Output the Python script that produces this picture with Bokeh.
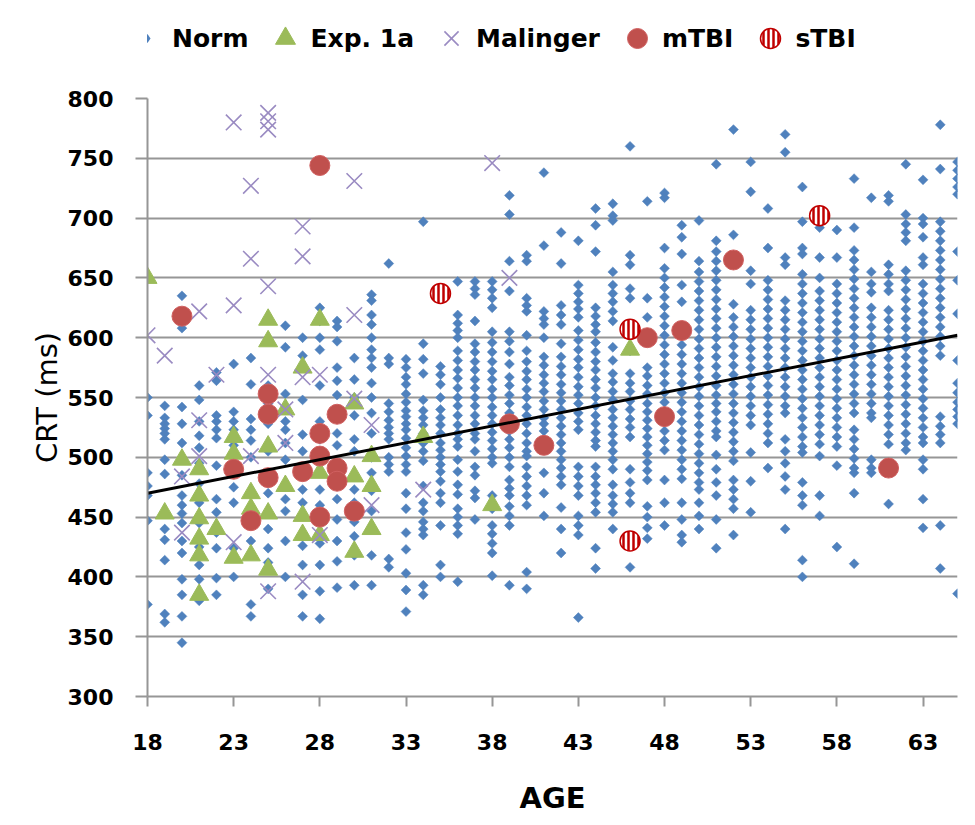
import math
from bokeh.plotting import figure
from bokeh.layouts import column
from bokeh.models import Legend, LegendItem, FixedTicker, Range1d
from bokeh.embed import file_html
from bokeh.resources import INLINE

# ---------------- data ----------------
x_ticks = [18, 23, 28, 33, 38, 43, 48, 53, 58, 63]
y_ticks = [300, 350, 400, 450, 500, 550, 600, 650, 700, 750, 800]

norm_18 = [550, 535, 487, 476, 468, 447, 377]
norm_19 = [543, 533, 528, 524, 520, 515, 498, 486, 440, 431, 414, 369, 362]
norm_20 = [635, 608, 542, 528, 512, 485, 468, 460, 453, 445, 430, 420, 398, 385, 367, 345]
norm_21 = [560, 548, 530, 518, 508, 495, 478, 462, 445, 425, 410, 398, 380]
norm_22 = [571, 564, 535, 530, 523, 516, 493, 465, 454, 437, 424, 399, 385]
norm_23 = [578, 538, 530, 523, 510, 490, 475, 462, 424, 400]
norm_24 = [583, 561, 532, 523, 514, 500, 470, 445, 430, 377, 367]
norm_25 = [560, 545, 528, 505, 470, 440, 424, 412, 390]
norm_26 = [610, 592, 553, 530, 523, 512, 498, 465, 455, 430, 400]
norm_27 = [600, 585, 548, 519, 505, 490, 473, 462, 426, 410, 385, 367]
norm_28 = [625, 614, 600, 590, 560, 530, 515, 473, 460, 428, 410, 388, 365]
norm_29 = [614, 609, 597, 575, 564, 552, 520, 510, 476, 465, 448, 430, 413, 391]
norm_30 = [583, 565, 550, 535, 515, 505, 473, 462, 446, 434, 418, 393]
norm_31 = [636, 631, 619, 611, 600, 590, 583, 575, 562, 550, 537, 520, 500, 487, 472, 455, 418, 393]
norm_32 = [662, 583, 578, 545, 538, 531, 525, 520, 515, 500, 494, 488, 415, 408]
norm_33 = [582, 575, 567, 561, 553, 546, 539, 534, 528, 523, 516, 508, 501, 494, 488, 470, 457, 437, 423, 403, 389, 371]
norm_34 = [697, 595, 582, 570, 548, 539, 533, 527, 520, 512, 505, 497, 476, 462, 455, 446, 440, 435, 393, 385]
norm_35 = [576, 569, 561, 550, 540, 533, 527, 520, 512, 506, 500, 494, 488, 480, 470, 462, 443, 410, 400]
norm_36 = [647, 619, 612, 606, 600, 589, 581, 573, 566, 558, 550, 543, 535, 527, 520, 515, 509, 498, 488, 477, 469, 457, 450, 443, 436, 396]
norm_37 = [647, 641, 636, 614, 595, 588, 580, 573, 565, 558, 550, 543, 535, 528, 520, 515, 505, 492, 485, 472, 466, 448]
norm_38 = [647, 640, 633, 625, 605, 596, 588, 580, 572, 565, 557, 550, 542, 535, 528, 521, 514, 507, 500, 495, 468, 457, 443, 436, 428, 420, 401]
norm_39 = [719, 703, 664, 639, 605, 597, 588, 578, 567, 560, 552, 545, 537, 530, 522, 515, 508, 500, 492, 481, 474, 468, 459, 451, 443, 393]
norm_40 = [669, 664, 633, 627, 622, 602, 589, 580, 572, 565, 557, 550, 542, 535, 528, 520, 512, 505, 501, 492, 484, 476, 468, 460, 404, 390]
norm_41 = [738, 677, 622, 616, 611, 600, 584, 577, 569, 562, 555, 547, 540, 533, 528, 522, 515, 487, 470, 451]
norm_42 = [688, 662, 627, 619, 611, 595, 584, 576, 569, 561, 554, 547, 540, 533, 526, 519, 512, 505, 498, 491, 484, 477, 458, 440, 420]
norm_43 = [681, 644, 637, 630, 624, 617, 606, 598, 590, 582, 575, 567, 559, 552, 545, 537, 530, 523, 492, 484, 476, 468, 451, 443, 435, 366]
norm_44 = [708, 694, 672, 625, 618, 611, 605, 596, 588, 580, 573, 565, 558, 550, 543, 535, 528, 521, 514, 509, 492, 484, 477, 470, 462, 454, 424, 407]
norm_45 = [712, 702, 698, 655, 644, 637, 630, 622, 614, 592, 581, 570, 563, 555, 548, 540, 533, 526, 519, 512, 505, 498, 490, 477, 468, 461, 454, 440]
norm_46 = [760, 669, 661, 641, 633, 589, 570, 562, 555, 547, 540, 532, 525, 517, 490, 479, 470, 462, 408]
norm_47 = [714, 633, 617, 598, 575, 568, 560, 553, 545, 538, 531, 524, 517, 510, 503, 496, 489, 481, 459, 450, 441, 432]
norm_48 = [721, 717, 675, 658, 650, 642, 634, 626, 618, 610, 602, 594, 586, 578, 570, 562, 554, 546, 538, 530, 522, 514, 506, 481, 462, 443]
norm_49 = [694, 684, 670, 644, 630, 602, 594, 586, 578, 570, 562, 554, 546, 538, 530, 522, 514, 506, 498, 490, 482, 462, 448, 435, 429]
norm_50 = [698, 664, 655, 647, 639, 631, 623, 615, 607, 599, 591, 583, 575, 567, 559, 551, 543, 535, 527, 519, 511, 503, 495, 487, 479, 473, 462, 451, 440]
norm_51 = [745, 681, 672, 664, 656, 648, 640, 632, 624, 616, 608, 600, 592, 584, 576, 568, 560, 552, 545, 538, 530, 522, 517, 502, 490, 479, 468, 448, 424]
norm_52 = [774, 686, 628, 617, 609, 601, 593, 585, 577, 569, 561, 553, 545, 537, 529, 521, 513, 505, 497, 481, 473, 465, 457, 435]
norm_53 = [747, 722, 656, 645, 623, 615, 607, 599, 591, 583, 575, 567, 559, 551, 543, 535, 527, 504, 480, 454]
norm_54 = [708, 675, 648, 640, 632, 624, 616, 608, 600, 592, 584, 576, 568, 560, 552, 544, 536, 528, 520, 512, 491]
norm_55 = [770, 755, 667, 661, 631, 623, 615, 607, 599, 591, 583, 575, 567, 559, 551, 543, 537, 515, 505, 495, 484, 473, 440]
norm_56 = [726, 697, 675, 670, 653, 645, 637, 629, 621, 613, 605, 597, 589, 581, 573, 565, 557, 549, 541, 533, 525, 517, 509, 504, 479, 468, 460, 414, 400]
norm_57 = [692, 667, 650, 639, 631, 623, 615, 607, 599, 591, 583, 575, 567, 559, 551, 543, 535, 527, 519, 511, 501, 468, 451]
norm_58 = [690, 667, 645, 637, 629, 621, 613, 605, 597, 589, 581, 573, 565, 557, 549, 541, 533, 525, 517, 509, 493, 425]
norm_59 = [733, 692, 673, 665, 657, 649, 641, 633, 625, 617, 609, 601, 593, 585, 577, 569, 561, 553, 545, 537, 523, 515, 507, 499, 491, 487, 470, 411]
norm_60 = [717, 655, 645, 638, 625, 617, 609, 601, 593, 585, 577, 569, 561, 553, 545, 537, 533, 498, 491, 487]
norm_61 = [719, 714, 661, 653, 645, 639, 623, 615, 607, 599, 591, 583, 575, 567, 559, 551, 543, 535, 527, 519, 511, 461]
norm_62 = [745, 703, 695, 688, 681, 656, 648, 640, 632, 624, 616, 608, 600, 592, 584, 576, 568, 560, 552, 544, 536, 528, 520, 512, 506]
norm_63 = [732, 700, 695, 684, 667, 661, 645, 637, 629, 621, 613, 605, 597, 589, 581, 573, 565, 557, 549, 541, 533, 525, 517, 512, 498, 490, 465, 441]
norm_64 = [778, 741, 697, 689, 681, 673, 665, 657, 649, 641, 633, 625, 617, 609, 601, 593, 585, 534, 526, 519, 512, 443, 407]
norm_65 = [747, 740, 733, 726, 720, 672, 648, 620, 581, 562, 554, 546, 540, 534, 528, 386]

exp_age = [18, 19, 20, 21, 21, 21, 21, 21, 21, 22, 23, 23, 23, 24, 24, 24,
           25, 25, 25, 25, 25, 26, 26, 27, 27, 27, 28, 28, 28, 30, 30, 30,
           31, 31, 31, 34, 38, 46]
exp_crt = [650, 453, 498, 490, 468, 449, 432, 418, 385, 440, 517, 503, 416, 470, 457, 418,
           615, 597, 509, 453, 406, 540, 476, 575, 451, 435, 615, 487, 435, 545, 484, 421,
           501, 476, 440, 517, 460, 590]

mal_age = [18, 19, 20, 20, 21, 21, 21, 22, 23, 23, 23, 24, 24, 24,
           25, 25, 25, 25, 25, 25, 26, 26, 27, 27, 27, 27, 28, 28,
           30, 30, 30, 31, 31, 34, 38, 39]
mal_crt = [602, 585, 484, 437, 622, 531, 501, 569, 780, 627, 429, 727, 666, 501,
           788, 781, 774, 643, 569, 388, 540, 512, 693, 668, 567, 396, 569, 435,
           731, 619, 549, 527, 460, 473, 746, 650]

mtbi_age = [20, 23, 24, 25, 25, 25, 27, 28, 28, 28, 28, 29, 29, 29, 30, 39, 41, 47, 48, 49, 52, 61]
mtbi_crt = [618, 490, 447, 553, 536, 483, 488, 744, 520, 501, 450, 536, 491, 480, 455, 528, 510, 600, 534, 606, 665, 491]

stbi_age = [35, 46, 46, 57]
stbi_crt = [637, 607, 430, 702]

trend_age = [18, 65]
trend_crt = [470, 602]

legend_labels = ["Norm", "Exp. 1a", "Malinger", "mTBI", "sTBI"]

norm_columns = [
    (18, norm_18), (19, norm_19), (20, norm_20), (21, norm_21), (22, norm_22),
    (23, norm_23), (24, norm_24), (25, norm_25), (26, norm_26), (27, norm_27),
    (28, norm_28), (29, norm_29), (30, norm_30), (31, norm_31), (32, norm_32),
    (33, norm_33), (34, norm_34), (35, norm_35), (36, norm_36), (37, norm_37),
    (38, norm_38), (39, norm_39), (40, norm_40), (41, norm_41), (42, norm_42),
    (43, norm_43), (44, norm_44), (45, norm_45), (46, norm_46), (47, norm_47),
    (48, norm_48), (49, norm_49), (50, norm_50), (51, norm_51), (52, norm_52),
    (53, norm_53), (54, norm_54), (55, norm_55), (56, norm_56), (57, norm_57),
    (58, norm_58), (59, norm_59), (60, norm_60), (61, norm_61), (62, norm_62),
    (63, norm_63), (64, norm_64), (65, norm_65),
]
norm_age, norm_crt = [], []
for age, vals in norm_columns:
    norm_age += [age] * len(vals)
    norm_crt += vals

# ---------------- styling ----------------
FONT = "DejaVu Sans"
BLUE = "#4F81BD"
GREEN = "#9BBB59"
PURPLE = "#9A8BC2"
RED = "#C0504D"
DARKRED = "#C00000"
GRID = "#969696"

W = 967
LEG_H = 88
MAIN_H = 729
BORDER_L = 147
BORDER_R = 10

EXP_STYLE = dict(marker="triangle", fill_color=GREEN, line_color=GREEN)
MAL_STYLE = dict(marker="x", line_color=PURPLE, line_width=1.6)
MTBI_STYLE = dict(marker="circle", fill_color=RED, line_color="#D06060", line_width=1)
STBI_STYLE = dict(marker="circle", fill_color="white", line_color=DARKRED, line_width=1.5,
                  hatch_pattern="vertical_line", hatch_color=DARKRED,
                  hatch_scale=5, hatch_weight=2.5)

# ---------------- main chart ----------------
p = figure(width=W, height=MAIN_H, output_backend="svg", toolbar_location=None,
           title=None, x_range=Range1d(18, 65), y_range=Range1d(300, 800),
           min_border_left=BORDER_L, min_border_right=BORDER_R,
           min_border_top=10, min_border_bottom=114)
p.outline_line_color = None
p.background_fill_color = "white"
p.border_fill_color = "white"
p.xgrid.visible = False
p.ygrid.grid_line_color = GRID
p.ygrid.grid_line_width = 2

p.xaxis.ticker = FixedTicker(ticks=x_ticks)
p.yaxis.ticker = FixedTicker(ticks=y_ticks)
for ax in (p.xaxis[0], p.yaxis[0]):
    ax.axis_line_color = GRID
    ax.axis_line_width = 2
    ax.major_tick_line_color = GRID
    ax.major_tick_line_width = 2
    ax.minor_tick_line_color = None
    ax.major_tick_in = 0
    ax.major_label_text_font = FONT
    ax.major_label_text_font_style = "bold"
    ax.major_label_text_font_size = "22px"
    ax.major_label_text_color = "black"
    ax.axis_label_text_font = FONT
    ax.axis_label_text_color = "black"
p.xaxis.major_tick_out = 10
p.yaxis.major_tick_out = 12
p.xaxis.major_label_standoff = 27
p.yaxis.major_label_standoff = 22
p.xaxis.axis_label = "AGE"
p.xaxis.axis_label_text_font_size = "29px"
p.xaxis.axis_label_text_font_style = "bold"
p.xaxis.axis_label_standoff = 28
p.yaxis.axis_label = "CRT (ms)"
p.yaxis.axis_label_text_font_size = "29px"
p.yaxis.axis_label_text_font_style = "normal"
p.yaxis.axis_label_standoff = 1

p.scatter(norm_age, norm_crt, marker="square", size=7, angle=math.pi / 4,
          fill_color=BLUE, line_color=BLUE, line_width=0.5)
p.scatter(exp_age, exp_crt, size=19, **EXP_STYLE)
p.scatter(mal_age, mal_crt, size=22, **MAL_STYLE)
p.scatter(mtbi_age, mtbi_crt, size=20, **MTBI_STYLE)
p.scatter(stbi_age, stbi_crt, size=20, **STBI_STYLE)
p.line(trend_age, trend_crt, line_color="black", line_width=3)

# ---------------- legend strip (same frame borders as the chart) ----------------
lg = figure(width=W, height=LEG_H, output_backend="svg", toolbar_location=None,
            title=None, x_range=Range1d(0, 1), y_range=Range1d(0, 1),
            x_axis_location=None, y_axis_location=None,
            min_border_left=BORDER_L, min_border_right=BORDER_R,
            min_border_top=0, min_border_bottom=0)
lg.outline_line_color = None
lg.xgrid.visible = False
lg.ygrid.visible = False
lg.background_fill_color = "white"
lg.border_fill_color = "white"

# legend key renderers: one point each, outside the strip's visible range
key_x = [-5]
key_y = [-5]
l_norm = lg.scatter(key_x, key_y, marker="diamond", fill_color=BLUE,
                    line_color="white", line_width=6)
l_exp = lg.scatter(key_x, key_y, **EXP_STYLE)
l_mal = lg.scatter(key_x, key_y, **MAL_STYLE)
l_mtbi = lg.scatter(key_x, key_y, **MTBI_STYLE)
l_stbi = lg.scatter(key_x, key_y, **STBI_STYLE)

legend = Legend(
    items=[LegendItem(label=lab, renderers=[r]) for lab, r in
           zip(legend_labels, [l_norm, l_exp, l_mal, l_mtbi, l_stbi])],
    orientation="horizontal",
    location=(-25, 25),
    glyph_width=50, glyph_height=50,
    label_standoff=-8, spacing=12, padding=5, margin=0,
    border_line_color=None, background_fill_alpha=0,
    label_text_font=FONT, label_text_font_style="bold",
    label_text_font_size="25px", label_text_color="black",
)
lg.add_layout(legend)

layout = column(lg, p, spacing=0)
open("out.html", "w").write(file_html(layout, INLINE))
